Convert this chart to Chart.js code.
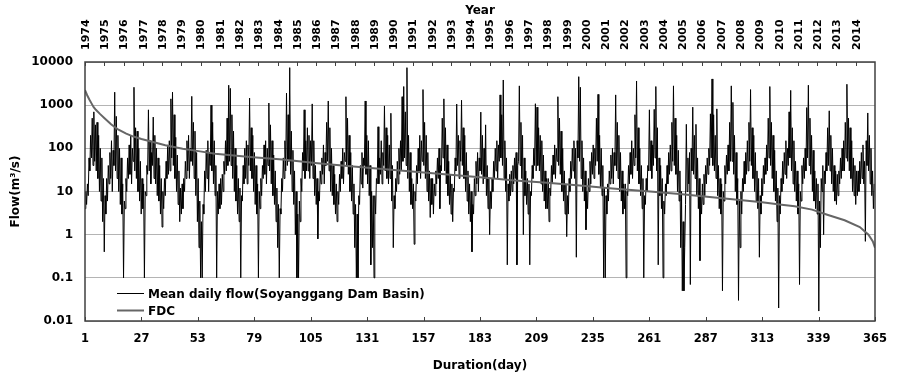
<!DOCTYPE html>
<html>
<head>
<meta charset="utf-8">
<script src="https://cdn.jsdelivr.net/npm/chart.js@4/dist/chart.umd.min.js"></script>
<style>
  body { margin: 0; background: #fff; }
  #wrap { width: 898px; height: 378px; }
</style>
</head>
<body>
<div id="wrap"><canvas id="myChart" width="898" height="378"></canvas></div>
<script>
Chart.defaults.font.family = "'DejaVu Sans', Verdana, sans-serif";
Chart.defaults.font.weight = "bold";
Chart.defaults.color = "#000";

const years = [1974, 1975, 1976, 1977, 1978, 1979, 1980, 1981, 1982, 1983, 1984, 1985, 1986, 1987, 1988, 1989, 1990, 1991, 1992, 1993, 1994, 1995, 1996, 1997, 1998, 1999, 2000, 2001, 2002, 2003, 2004, 2005, 2006, 2007, 2008, 2009, 2010, 2011, 2012, 2013, 2014];
const dayTicks = [1, 27, 53, 79, 105, 131, 157, 183, 209, 235, 261, 287, 313, 339, 365];
const flowTicks = [0.01, 0.1, 1, 10, 100, 1000, 10000];
const stepsPerYear = 24;

// mean daily flow, low/high pair for each month
const dailyFlow = [
  4, 10, 5, 15, 8, 60, 30, 200, 60, 500, 40, 700, 50, 350, 30, 400, 20, 200, 10, 100, 6, 60, 2, 20, // 1974
  0.4, 8, 3, 20, 6, 40, 15, 80, 20, 150, 10, 90, 40, 2000, 30, 550, 20, 200, 10, 100, 5, 60, 3, 15, // 1975
  0.1, 6, 4, 20, 10, 60, 20, 120, 25, 200, 15, 100, 50, 2600, 30, 300, 20, 250, 10, 100, 6, 50, 3, 20, // 1976
  4, 15, 0.1, 10, 8, 40, 25, 780, 30, 150, 15, 80, 40, 530, 20, 200, 15, 100, 8, 60, 6, 40, 3, 20, // 1977
  1.5, 10, 4, 20, 8, 50, 20, 120, 25, 150, 30, 1400, 60, 2000, 40, 600, 20, 180, 10, 70, 5, 30, 2, 12, // 1978
  3, 15, 4, 20, 10, 50, 20, 150, 30, 200, 20, 100, 50, 1600, 40, 400, 20, 250, 8, 80, 2, 20, 0.5, 6, // 1979
  0.1, 2, 0.1, 5, 3, 30, 10, 90, 20, 150, 10, 80, 40, 1000, 30, 400, 15, 150, 8, 40, 0.1, 10, 3, 15, // 1980
  4, 20, 5, 25, 10, 50, 25, 150, 30, 500, 40, 2900, 50, 2450, 40, 600, 20, 250, 10, 100, 6, 40, 3, 20, // 1981
  2, 12, 0.1, 8, 6, 40, 15, 100, 20, 150, 15, 120, 40, 1460, 30, 300, 20, 200, 10, 80, 5, 40, 3, 15, // 1982
  0.1, 10, 4, 20, 8, 40, 20, 120, 25, 150, 15, 100, 40, 1120, 30, 350, 15, 150, 8, 70, 5, 30, 2, 12, // 1983
  0.5, 5, 0.1, 4, 3, 20, 10, 60, 20, 150, 30, 1900, 40, 600, 50, 7400, 25, 250, 10, 90, 5, 30, 1, 10, // 1984
  0.1, 3, 0.1, 6, 2, 20, 10, 80, 30, 780, 20, 150, 30, 300, 30, 200, 20, 150, 40, 1070, 20, 150, 8, 40, // 1985
  5, 20, 0.8, 10, 6, 30, 15, 60, 25, 120, 15, 80, 40, 400, 50, 1250, 30, 300, 10, 100, 8, 40, 5, 25, // 1986
  3, 15, 2, 10, 5, 25, 10, 50, 20, 100, 15, 80, 50, 1570, 40, 500, 25, 200, 10, 80, 6, 40, 3, 15, // 1987
  0.5, 5, 0.1, 3, 0.1, 8, 5, 40, 15, 80, 12, 60, 40, 1250, 25, 200, 15, 150, 8, 40, 0.2, 10, 0.5, 8, // 1988
  0.1, 8, 3, 20, 15, 316, 15, 60, 25, 150, 15, 80, 40, 960, 30, 300, 20, 200, 15, 120, 20, 650, 6, 40, // 1989
  0.5, 8, 4, 20, 10, 50, 15, 100, 25, 150, 30, 1570, 50, 2700, 60, 700, 40, 7400, 20, 200, 10, 80, 5, 20, // 1990
  4, 15, 0.6, 10, 6, 40, 15, 100, 30, 200, 20, 150, 50, 2300, 40, 400, 20, 200, 10, 80, 6, 30, 2.5, 20, // 1991
  5, 20, 3, 15, 8, 30, 15, 60, 20, 100, 4, 40, 30, 500, 60, 1400, 30, 300, 15, 120, 8, 50, 5, 25, // 1992
  3, 15, 2, 12, 10, 60, 30, 1060, 40, 200, 20, 150, 50, 1300, 40, 300, 20, 200, 10, 80, 6, 30, 3, 15, // 1993
  2, 10, 0.4, 5, 3, 20, 8, 50, 15, 80, 10, 60, 30, 690, 25, 200, 15, 100, 20, 350, 8, 40, 4, 20, // 1994
  1, 10, 4, 20, 10, 50, 20, 100, 30, 150, 20, 120, 50, 1730, 60, 600, 40, 3830, 20, 150, 10, 60, 0.2, 15, // 1995
  6, 25, 8, 30, 10, 40, 15, 60, 20, 80, 0.2, 40, 50, 2800, 40, 400, 20, 200, 1, 60, 8, 30, 5, 20, // 1996
  3, 15, 0.2, 10, 8, 40, 20, 100, 40, 1080, 30, 900, 40, 300, 30, 200, 15, 150, 10, 70, 6, 30, 4, 20, // 1997
  4, 20, 2, 12, 8, 40, 15, 70, 25, 120, 20, 100, 50, 1570, 40, 500, 25, 250, 10, 100, 6, 30, 3, 15, // 1998
  0.9, 8, 3, 20, 10, 50, 20, 100, 30, 150, 20, 100, 0.3, 150, 60, 4570, 50, 2600, 20, 150, 10, 60, 6, 30, // 1999
  1.3, 10, 4, 20, 10, 50, 15, 80, 25, 120, 20, 100, 40, 500, 50, 1780, 25, 200, 12, 100, 8, 40, 0.1, 12, // 2000
  0.1, 8, 3, 15, 6, 30, 15, 70, 20, 100, 15, 80, 40, 1730, 30, 400, 20, 200, 10, 80, 6, 30, 3, 15, // 2001
  4, 15, 0.1, 10, 8, 40, 15, 80, 25, 150, 20, 100, 40, 600, 60, 3630, 30, 300, 15, 100, 8, 40, 4, 20, // 2002
  0.1, 8, 5, 20, 10, 40, 30, 780, 30, 150, 20, 120, 40, 800, 60, 2700, 30, 300, 0.2, 60, 8, 40, 4, 20, // 2003
  0.1, 6, 3, 15, 8, 40, 15, 80, 25, 120, 30, 400, 50, 2800, 40, 500, 25, 200, 10, 90, 6, 30, 0.5, 10, // 2004
  0.05, 2, 0.05, 0.5, 5, 360, 10, 60, 15, 80, 0.07, 100, 30, 900, 25, 200, 20, 360, 8, 60, 4, 20, 0.25, 8, // 2005
  3, 15, 5, 25, 8, 40, 15, 60, 25, 100, 40, 630, 60, 4050, 40, 600, 30, 200, 20, 820, 8, 40, 4, 20, // 2006
  3, 15, 0.05, 10, 6, 40, 15, 70, 25, 120, 30, 400, 50, 2800, 50, 1160, 25, 200, 10, 80, 5, 20, 0.03, 6, // 2007
  0.5, 10, 3, 20, 10, 50, 15, 80, 25, 150, 30, 400, 50, 2300, 40, 300, 20, 200, 10, 80, 6, 30, 4, 20, // 2008
  0.3, 8, 3, 20, 8, 40, 15, 60, 25, 120, 30, 500, 60, 2700, 40, 400, 20, 200, 10, 90, 6, 30, 2, 12, // 2009
  0.02, 8, 3, 20, 10, 50, 15, 80, 25, 150, 20, 100, 40, 700, 60, 2200, 30, 300, 15, 150, 10, 50, 6, 30, // 2010
  3, 15, 0.07, 10, 6, 40, 15, 60, 20, 100, 30, 880, 60, 2900, 40, 500, 25, 200, 10, 90, 6, 30, 4, 20, // 2011
  3, 15, 0.017, 6, 0.5, 20, 10, 40, 1, 30, 15, 80, 30, 300, 40, 740, 30, 200, 15, 100, 10, 40, 6, 30, // 2012
  5, 25, 8, 30, 15, 60, 20, 100, 30, 150, 30, 400, 60, 3050, 50, 500, 30, 300, 20, 150, 10, 60, 8, 40, // 2013
  5, 30, 8, 30, 10, 50, 15, 80, 20, 120, 15, 50, 0.7, 150, 40, 660, 30, 200, 15, 100, 8, 30, 4, 15 // 2014
];

// flow duration curve
const fdcDays = [1, 2, 3, 4, 5, 6, 8, 10, 13, 16, 20, 23, 27, 31, 38, 46, 54, 61, 77, 92, 107, 122, 138, 153, 168, 183, 199, 214, 229, 244, 260, 275, 290, 305, 313, 321, 328, 336, 343, 351, 358, 362, 364, 365];
const fdcFlow = [2240, 1700, 1350, 1100, 900, 780, 620, 500, 360, 280, 220, 190, 165, 146, 118, 98, 85, 75, 63, 55, 46, 39, 33, 28.5, 24.7, 21.4, 17.9, 15.9, 13.7, 11.7, 10.2, 8.8, 7.4, 6.2, 5.65, 5.0, 4.57, 3.8, 2.9, 2.16, 1.5, 1.0, 0.7, 0.5];

const flowPoints = dailyFlow.map((v, i) => ({ x: years[0] + i / stepsPerYear, y: v }));
const fdcPoints = fdcDays.map((d, i) => ({ x: d, y: fdcFlow[i] }));

const framePlugin = {
  id: "frame",
  afterDatasetsDraw(chart) {
    const { ctx, chartArea: a, scales } = chart;
    ctx.save();
    ctx.strokeStyle = "#404040";
    ctx.lineWidth = 1;
    ctx.beginPath();
    scales.x.ticks.forEach((t, i) => {
      const px = Math.round(scales.x.getPixelForTick(i)) + 0.5;
      ctx.moveTo(px, a.bottom);
      ctx.lineTo(px, a.bottom - 4);
    });
    scales.x2.ticks.forEach((t, i) => {
      const px = Math.round(scales.x2.getPixelForTick(i)) + 0.5;
      ctx.moveTo(px, a.top);
      ctx.lineTo(px, a.top + 4);
    });
    ctx.stroke();
    ctx.lineWidth = 1.5;
    ctx.strokeRect(a.left, a.top, a.right - a.left, a.bottom - a.top);

    // year labels, rotated, on the top axis
    ctx.fillStyle = "#000";
    ctx.font = "bold 11px 'DejaVu Sans', Verdana, sans-serif";
    ctx.textAlign = "left";
    ctx.textBaseline = "middle";
    scales.x2.ticks.forEach((t, i) => {
      const px = scales.x2.getPixelForTick(i);
      ctx.save();
      ctx.translate(px + 1, a.top - 12);
      ctx.rotate(-Math.PI / 2);
      ctx.fillText(String(t.value), 0, 0);
      ctx.restore();
    });

    // legend inside the plot, lower left
    ctx.font = "bold 12px 'DejaVu Sans', Verdana, sans-serif";
    chart.data.datasets.forEach((ds, i) => {
      const y = Math.round(a.bottom - 28 + i * 16.5) + 0.5;
      ctx.strokeStyle = ds.borderColor;
      ctx.lineWidth = ds.borderWidth;
      ctx.beginPath();
      ctx.moveTo(a.left + 32, y);
      ctx.lineTo(a.left + 59, y);
      ctx.stroke();
      ctx.fillText(ds.label, a.left + 63, y + 1);
    });
    ctx.restore();
  },
};

const ctx = document.getElementById("myChart").getContext("2d");
const myChart = new Chart(ctx, {
  type: "line",
  data: {
    datasets: [
      {
        label: "Mean daily flow(Soyanggang Dam Basin)",
        data: flowPoints,
        xAxisID: "x2",
        yAxisID: "y",
        borderColor: "#000000",
        borderWidth: 1,
        pointRadius: 0,
        order: 1,
      },
      {
        label: "FDC",
        data: fdcPoints,
        xAxisID: "x",
        yAxisID: "y",
        borderColor: "#666666",
        borderWidth: 2,
        pointRadius: 0,
        order: 0,
      },
    ],
  },
  options: {
    responsive: false,
    animation: false,
    layout: { padding: { left: 0, right: 13, top: 0, bottom: 0 } },
    scales: {
      x: {
        type: "linear",
        position: "bottom",
        min: 1,
        max: 365,
        afterBuildTicks: (s) => { s.ticks = dayTicks.map((v) => ({ value: v })); },
        afterFit: (s) => { s.height = 57; },
        grid: { display: false, drawTicks: false },
        border: { display: false },
        ticks: { autoSkip: false, maxRotation: 0, padding: 11, font: { size: 11.5, weight: "bold" } },
        title: { display: true, text: "Duration(day)", font: { size: 12, weight: "bold" }, padding: { top: 0, bottom: 5 } },
      },
      x2: {
        type: "linear",
        position: "top",
        min: 1974,
        max: 2015,
        afterBuildTicks: (s) => { s.ticks = years.map((v) => ({ value: v })); },
        afterFit: (s) => { s.height = 62; },
        grid: { display: false, drawTicks: false },
        border: { display: false },
        ticks: { display: false, autoSkip: false },
        title: { display: true, text: "Year", font: { size: 12, weight: "bold" }, padding: { top: 4, bottom: 0 } },
      },
      y: {
        type: "logarithmic",
        min: 0.01,
        max: 10000,
        afterBuildTicks: (s) => { s.ticks = flowTicks.map((v) => ({ value: v })); },
        afterFit: (s) => { s.width = 85; },
        grid: { color: "#b4b4b4", lineWidth: 1, drawTicks: false },
        border: { display: false },
        ticks: { padding: 12, font: { size: 12, weight: "bold" }, callback: (v) => String(v) },
        title: { display: true, text: "Flow(m³/s)", font: { size: 12, weight: "bold" }, padding: { top: 9, bottom: 0 } },
      },
    },
    plugins: {
      legend: { display: false },
      tooltip: { enabled: false },
    },
  },
  plugins: [framePlugin],
});
</script>
</body>
</html>
